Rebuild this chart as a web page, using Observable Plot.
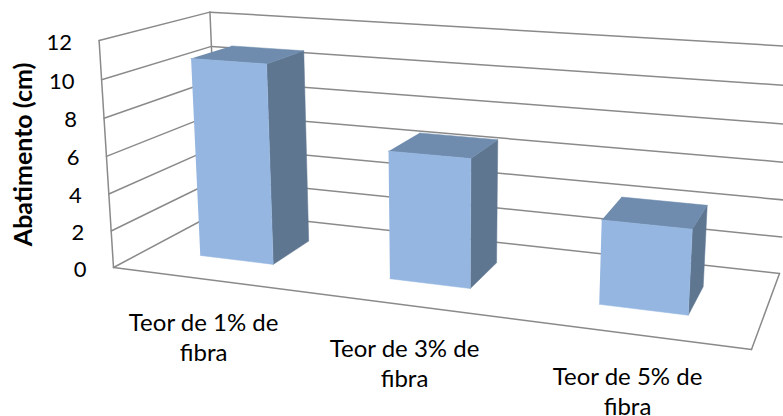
<!DOCTYPE html>
<html lang="pt">
<head>
<meta charset="utf-8">
<script src="https://cdn.jsdelivr.net/npm/d3@7"></script>
<script src="https://cdn.jsdelivr.net/npm/@observablehq/plot@0.6"></script>
<style>
  html, body { margin: 0; padding: 0; background: #fff; }
  svg { display: block; }
</style>
</head>
<body>
<div id="chart"></div>
<script>
// Slump per fibre content
const categories = ["Teor de 1% de\nfibra", "Teor de 3% de\nfibra", "Teor de 5% de\nfibra"];
const values = [10.75, 6.75, 4.3];
const ticks = [0, 2, 4, 6, 8, 10, 12];
const yTitle = "Abatimento (cm)";
const yMax = 12;

// Perspective camera: floor corners on screen and the vanishing point of the verticals.
const floor = {p00: [113, 267], p10: [751, 349], p11: [779, 273], p01: [218, 211]};
const vanish = [445, 5500];
const topFrontLeftY = 40;

const {p00, p10, p11, p01} = floor;
const dx1 = p10[0] - p11[0], dx2 = p01[0] - p11[0], sx = p00[0] - p10[0] + p11[0] - p01[0];
const dy1 = p10[1] - p11[1], dy2 = p01[1] - p11[1], sy = p00[1] - p10[1] + p11[1] - p01[1];
const det = dx1 * dy2 - dx2 * dy1;
const g = (sx * dy2 - dx2 * sy) / det;
const h = (dx1 * sy - sx * dy1) / det;
const a = p10[0] * (1 + g) - p00[0], b = p01[0] * (1 + h) - p00[0];
const d = p10[1] * (1 + g) - p00[1], e = p01[1] * (1 + h) - p00[1];
const s = (topFrontLeftY - p00[1]) / (vanish[1] - topFrontLeftY);

// u: along the categories (0..1), val: chart value, w: depth (0 front, 1 back)
function project(u, val, w) {
  const k = s * (val / yMax);
  const z = g * u + h * w + 1 + k;
  return [
    (a * u + b * w + p00[0] + vanish[0] * k) / z,
    (d * u + e * w + p00[1] + vanish[1] * k) / z
  ];
}
const pt = (u, val, w, key) => {
  const [x, y] = project(u, val, w);
  return {x, y, key};
};

// Frame lines of the walls and floor
const frame = [];
const seg = (key, A, B) => frame.push(pt(...A, key), pt(...B, key));
for (const t of ticks) {
  seg(`back${t}`, [0, t, 1], [1, t, 1]);
  seg(`side${t}`, [0, t, 0], [0, t, 1]);
}
seg("edgeFront", [0, 0, 0], [0, yMax, 0]);
seg("edgeBack", [0, 0, 1], [0, yMax, 1]);
seg("floorFront", [0, 0, 0], [1, 0, 0]);
seg("floorRight", [1, 0, 0], [1, 0, 1]);

// Bar solids
const halfWidth = 0.066, depthFront = 0.30, depthBack = 0.69, nudge = -0.003;
const faces = {front: [], top: [], side: []};
values.forEach((v, i) => {
  const c = (i + 0.5) / values.length + nudge;
  const u0 = c - halfWidth, u1 = c + halfWidth;
  faces.front.push(pt(u0, 0, depthFront, i), pt(u1, 0, depthFront, i), pt(u1, v, depthFront, i), pt(u0, v, depthFront, i));
  faces.top.push(pt(u0, v, depthFront, i), pt(u1, v, depthFront, i), pt(u1, v, depthBack, i), pt(u0, v, depthBack, i));
  faces.side.push(pt(u1, 0, depthFront, i), pt(u1, 0, depthBack, i), pt(u1, v, depthBack, i), pt(u1, v, depthFront, i));
});

const face = (rows, fill) => Plot.line(rows, {x: "x", y: "y", z: "key", fill, stroke: fill, strokeWidth: 0.5, curve: "linear"});

const tickLabels = ticks.map((t) => ({...pt(0, t, 0), t}));
const catLabels = categories.map((label, i) => ({...pt((i + 0.5) / categories.length, 0, 0), label}));
const titleAnchor = [{...pt(0, yMax / 2, 0), label: yTitle}];
const fontFamily = "Lato, sans-serif";

const chart = Plot.plot({
  width: 783,
  height: 416,
  margin: 0,
  style: {background: "#fff", fontFamily},
  x: {type: "linear", domain: [0, 783], range: [0, 783], axis: null},
  y: {type: "linear", domain: [0, 416], range: [0, 416], axis: null},
  marks: [
    Plot.line(frame, {x: "x", y: "y", z: "key", stroke: "#8a8a8a", strokeWidth: 1.5, curve: "linear"}),
    face(faces.side, "#5f7691"),
    face(faces.top, "#6f8cae"),
    face(faces.front, "#95b6e0"),
    Plot.text(tickLabels, {x: "x", y: "y", text: (r) => String(r.t), dx: -27, dy: 2, textAnchor: "end", fontSize: 22, fill: "#000"}),
    Plot.text(catLabels, {x: "x", y: "y", text: "label", dx: -3, dy: 30, lineAnchor: "top", lineHeight: 1.25, textAnchor: "middle", fontSize: 24, fill: "#000"}),
    Plot.text(titleAnchor, {x: "x", y: "y", text: "label", dx: -82, dy: -2, rotate: -90, fontSize: 25, fontWeight: 700, fill: "#000"})
  ]
});
document.getElementById("chart").append(chart);
</script>
</body>
</html>
